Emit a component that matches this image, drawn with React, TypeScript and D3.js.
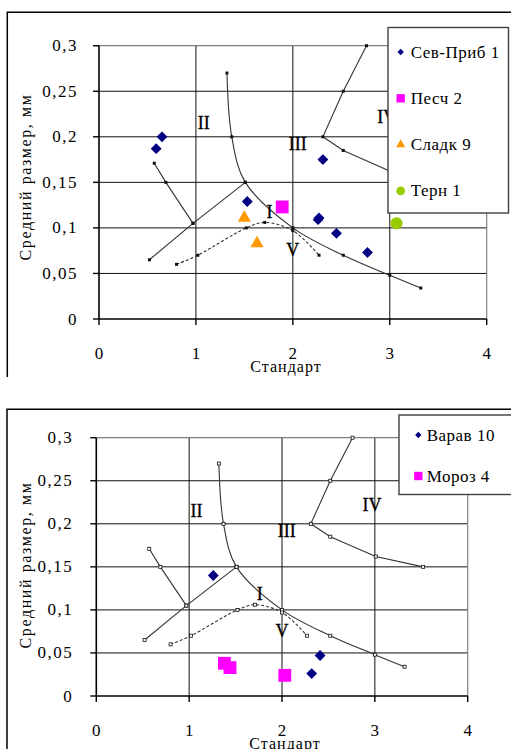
import { useEffect, useRef } from 'react'
import * as d3 from 'd3'

type Pt = [number, number]

// boundary curves (same in both panels)
const curveI: Pt[] = [[1.32, 0.27], [1.37, 0.2], [1.51, 0.15], [2.0, 0.1], [2.52, 0.07], [3.0, 0.048], [3.32, 0.034]]
const lineA: Pt[] = [[0.57, 0.171], [0.69, 0.15], [0.97, 0.105]]
const lineB: Pt[] = [[0.52, 0.065], [0.97, 0.105], [1.51, 0.15]]
const curveV: Pt[] = [[0.8, 0.06], [1.02, 0.07], [1.52, 0.1], [1.71, 0.106], [2.0, 0.097], [2.27, 0.07]]
const curveIII: Pt[] = [[2.76, 0.3], [2.52, 0.25], [2.31, 0.2], [2.52, 0.185], [3.01, 0.162], [3.52, 0.15]]

const zoneNames = ['II', 'III', 'IV', 'I', 'V']
const zoneAnchors: Pt[] = [[1.08, 0.215], [2.05, 0.192], [2.97, 0.222], [1.76, 0.118], [2.0, 0.076]]

// measured samples
const sevPrib1: Pt[] = [[0.59, 0.187], [0.65, 0.2], [2.31, 0.175], [1.53, 0.129], [2.27, 0.111], [2.26, 0.109], [2.45, 0.094], [2.77, 0.073]]
const pesch2: Pt[] = [[1.89, 0.123]]
const sladk9: Pt[] = [[1.5, 0.111], [1.63, 0.083]]
const tern1: Pt[] = [[3.07, 0.105]]
const varav10: Pt[] = [[1.26, 0.14], [2.41, 0.047], [2.32, 0.026]]
const moroz4: Pt[] = [[1.38, 0.038], [1.44, 0.033], [2.03, 0.024]]

const xTicks = [0, 1, 2, 3, 4]
const yTicks = [0, 0.05, 0.1, 0.15, 0.2, 0.25, 0.3]

const xTitle = 'Стандарт'
const yTitle = 'Средний размер, мм'

const SERIF = "'Liberation Serif', 'DejaVu Serif', 'Noto Serif', Times, serif"

type Series = { name: string, data: Pt[], shape: string, color: string }

const topSeries: Series[] = [
  { name: 'Сев-Приб 1', data: sevPrib1, shape: 'diamond', color: '#000080' },
  { name: 'Песч 2', data: pesch2, shape: 'square', color: '#FF00FF' },
  { name: 'Сладк 9', data: sladk9, shape: 'triangle', color: '#FF9900' },
  { name: 'Терн 1', data: tern1, shape: 'circle', color: '#99CC00' },
]
const bottomSeries: Series[] = [
  { name: 'Варав 10', data: varav10, shape: 'diamond', color: '#000080' },
  { name: 'Мороз 4', data: moroz4, shape: 'square', color: '#FF00FF' },
]

const symbolFor = (shape: string) => {
  if (shape === 'diamond') return d3.symbolDiamond2
  if (shape === 'square') return d3.symbolSquare
  if (shape === 'triangle') return d3.symbolTriangle
  return d3.symbolCircle
}
const markSize: Record<string, number> = { diamond: 75, square: 165, triangle: 75, circle: 115 }
const legendMarkSize: Record<string, number> = { diamond: 26, square: 70, triangle: 36, circle: 60 }

const fmt = (v: number) => (v === 0 ? '0' : String(v).replace('.', ','))

function drawPanel(svg: any, cfg: any, series: Series[]) {
  const g = svg.append('g').style('font-family', SERIF)
  const x = d3.scaleLinear().domain([0, 4]).range([cfg.left, cfg.right])
  const y = d3.scaleLinear().domain([0, 0.3]).range([cfg.bottom, cfg.top])

  // gridlines
  g.selectAll('.gy').data(yTicks.slice(1, -1)).join('line')
    .attr('x1', cfg.left).attr('x2', cfg.right)
    .attr('y1', (d: number) => y(d)).attr('y2', (d: number) => y(d))
    .attr('stroke', '#111').attr('stroke-width', 1)
  g.selectAll('.gx').data(xTicks.slice(1, -1)).join('line')
    .attr('x1', (d: number) => x(d)).attr('x2', (d: number) => x(d))
    .attr('y1', cfg.top).attr('y2', cfg.bottom)
    .attr('stroke', '#111').attr('stroke-width', 1)
  // plot border top / right
  g.append('path')
    .attr('d', `M${cfg.left},${y(0.3)}H${x(4)}V${cfg.bottom}`)
    .attr('fill', 'none').attr('stroke', '#808080').attr('stroke-width', 1.2)

  // axes
  g.append('line').attr('x1', cfg.left).attr('x2', cfg.right).attr('y1', cfg.bottom).attr('y2', cfg.bottom)
    .attr('stroke', '#000').attr('stroke-width', 1.6)
  g.append('line').attr('x1', cfg.left).attr('x2', cfg.left).attr('y1', cfg.top).attr('y2', cfg.bottom)
    .attr('stroke', '#000').attr('stroke-width', 1.6)
  g.selectAll('.tx').data(xTicks).join('line')
    .attr('x1', (d: number) => x(d)).attr('x2', (d: number) => x(d))
    .attr('y1', cfg.bottom).attr('y2', cfg.bottom + 6)
    .attr('stroke', '#000').attr('stroke-width', 1.4)
  g.selectAll('.ty').data(yTicks).join('line')
    .attr('x1', cfg.left - 6).attr('x2', cfg.left)
    .attr('y1', (d: number) => y(d)).attr('y2', (d: number) => y(d))
    .attr('stroke', '#000').attr('stroke-width', 1.4)

  g.selectAll('.xl').data(xTicks).join('text')
    .attr('x', (d: number) => x(d)).attr('y', cfg.bottom + 34)
    .attr('text-anchor', 'middle').attr('dominant-baseline', 'central')
    .style('font-family', SERIF).attr('font-size', 17).attr('fill', '#000')
    .text((d: number) => fmt(d))
  g.selectAll('.yl').data(yTicks).join('text')
    .attr('x', cfg.left - cfg.yLabelGap).attr('y', (d: number) => y(d))
    .attr('text-anchor', 'end').attr('dominant-baseline', 'central')
    .style('font-family', SERIF).attr('font-size', 17).attr('letter-spacing', 1.5).attr('fill', '#000')
    .text((d: number) => fmt(d))

  g.append('text').attr('x', cfg.xTitleX).attr('y', cfg.xTitleY)
    .attr('text-anchor', 'middle').attr('dominant-baseline', 'central')
    .style('font-family', SERIF).attr('font-size', 16).attr('letter-spacing', 1).text(xTitle)
  g.append('text').attr('transform', `translate(25,${cfg.yTitleY}) rotate(-90)`)
    .attr('text-anchor', 'middle').attr('dominant-baseline', 'central')
    .style('font-family', SERIF).attr('font-size', 16).attr('letter-spacing', 1.6).text(yTitle)

  // boundary lines
  const smooth = d3.line<Pt>().x(d => x(d[0])).y(d => y(d[1])).curve(d3.curveCatmullRom.alpha(0.5))
  const straight = d3.line<Pt>().x(d => x(d[0])).y(d => y(d[1]))
  const curves = [
    { data: curveI, gen: smooth, dash: null },
    { data: lineA, gen: straight, dash: null },
    { data: lineB, gen: straight, dash: null },
    { data: curveIII, gen: straight, dash: null },
    { data: curveV, gen: smooth, dash: '3,2' },
  ]
  curves.forEach(c => {
    g.append('path').attr('d', c.gen(c.data)).attr('fill', 'none')
      .attr('stroke', '#333').attr('stroke-width', 1.1)
      .attr('stroke-dasharray', c.dash)
    g.selectAll(null).data(c.data).join('rect')
      .attr('x', (d: Pt) => x(d[0]) - 1.5).attr('y', (d: Pt) => y(d[1]) - 1.5)
      .attr('width', 3).attr('height', 3)
      .attr('fill', cfg.hollow ? '#fff' : '#111').attr('stroke', '#111').attr('stroke-width', cfg.hollow ? 0.8 : 0)
  })

  g.selectAll('.zone').data(zoneNames).join('text')
    .attr('x', (d: string, i: number) => x(zoneAnchors[i][0]))
    .attr('y', (d: string, i: number) => y(zoneAnchors[i][1]))
    .attr('text-anchor', 'middle').attr('dominant-baseline', 'central')
    .style('font-family', SERIF).attr('font-size', 18).attr('fill', '#000')
    .attr('stroke', '#000').attr('stroke-width', 0.3)
    .text((d: string) => d)

  // samples
  series.forEach(s => {
    const sym = d3.symbol().type(symbolFor(s.shape)).size(markSize[s.shape])
    g.selectAll(null).data(s.data).join('path')
      .attr('d', sym)
      .attr('transform', (d: Pt) => `translate(${x(d[0])},${y(d[1])})`)
      .attr('fill', s.color)
  })

  // legend
  const lg = g.append('g')
  lg.append('rect').attr('x', cfg.legend.x).attr('y', cfg.legend.y)
    .attr('width', cfg.legend.w).attr('height', cfg.legend.h)
    .attr('fill', '#fff').attr('stroke', '#404040').attr('stroke-width', 1.4)
  const items = lg.selectAll('.li').data(series).join('g')
    .attr('transform', (d: Series, i: number) => `translate(${cfg.legend.x},${cfg.legend.firstY + i * cfg.legend.step})`)
  items.append('path')
    .attr('d', (d: Series) => d3.symbol().type(symbolFor(d.shape)).size(legendMarkSize[d.shape])())
    .attr('transform', `translate(${cfg.legend.markX},0)`)
    .attr('fill', (d: Series) => d.color)
  items.append('text').attr('x', cfg.legend.textX).attr('y', 0)
    .attr('dominant-baseline', 'central')
    .style('font-family', SERIF).attr('font-size', 17).attr('letter-spacing', 0.5)
    .text((d: Series) => d.name)

  // chart area frame (top + left visible)
  g.append('path').attr('d', `M${cfg.frame.x},${cfg.frame.y2}V${cfg.frame.y}H512`)
    .attr('fill', 'none').attr('stroke', '#000').attr('stroke-width', 1.5)
}

export default function App() {
  const svgRef = useRef<SVGSVGElement>(null)

  useEffect(() => {
    if (!svgRef.current) return
    const svg = d3.select(svgRef.current)
    svg.selectAll('*').remove()

    drawPanel(svg, {
      left: 99, right: 486.7, top: 45.7, bottom: 319,
      yLabelGap: 21, xTitleX: 286, xTitleY: 366, yTitleY: 177, hollow: false,
      legend: { x: 388, y: 27.5, w: 120.5, h: 185.5, firstY: 52, step: 46.3, markX: 12.7, textX: 22.7 },
      frame: { x: 7.3, y: 12.3, y2: 377 },
    }, topSeries)

    drawPanel(svg, {
      left: 96.3, right: 467.7, top: 437.7, bottom: 696,
      yLabelGap: 23, xTitleX: 285, xTitleY: 743, yTitleY: 565, hollow: true,
      legend: { x: 399, y: 415, w: 120, h: 79.5, firstY: 435, step: 41, markX: 19.3, textX: 27.7 },
      frame: { x: 7, y: 409.3, y2: 760 },
    }, bottomSeries)
  }, [])

  return (
    <svg ref={svgRef} width={511} height={749}
      style={{ position: 'absolute', left: 0, top: 0, background: '#fff' }} />
  )
}
